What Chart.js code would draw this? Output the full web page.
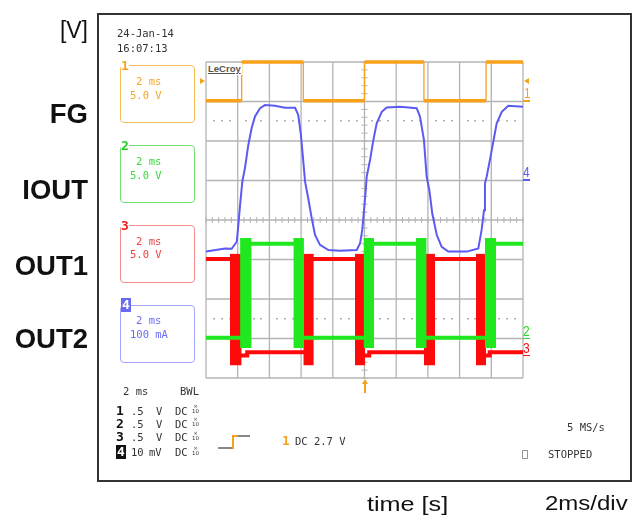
<!DOCTYPE html>
<html><head><meta charset="utf-8">
<script src="https://cdn.jsdelivr.net/npm/chart.js@4.4.1/dist/chart.umd.min.js"></script>
<style>
html,body{margin:0;padding:0;background:#fff;}
#wrap{position:relative;width:632px;height:516px;overflow:hidden;background:#fff;}
canvas{position:absolute;left:0;top:0;}
.t{position:absolute;white-space:pre;font-family:"DejaVu Sans Mono",monospace;font-size:10.5px;line-height:12px;color:#333;transform:translateY(-50%);}
.lbl{position:absolute;left:0;width:88px;text-align:right;font-family:"Liberation Sans",Arial,sans-serif;font-weight:bold;font-size:27.5px;line-height:28px;color:#111;transform:translateY(-50%);}
.box{position:absolute;left:120px;width:73px;height:56px;border:1.5px solid;border-radius:4px;}
.d{position:absolute;font-family:"DejaVu Sans Mono",monospace;font-weight:bold;font-size:13px;line-height:14px;transform:translateY(-50%);}
.fr{position:absolute;font-family:"DejaVu Sans",sans-serif;font-size:5.5px;line-height:5px;color:#333;text-align:center;}
.ln{position:absolute;}
.mk{position:absolute;font-family:"Liberation Sans",Arial,sans-serif;font-size:15px;line-height:15px;transform:translateY(-50%) scaleX(0.8);transform-origin:left center;}
</style></head>
<body><div id="wrap">
<canvas id="c" width="632" height="516"></canvas>

<!-- outer frame -->
<div class="ln" style="left:97px;top:13px;width:531px;height:465px;border:2px solid #333;"></div>

<!-- axis / signal labels -->
<div class="lbl" style="top:30px;font-weight:normal;font-size:23px;line-height:23px;">[V]</div>
<div class="lbl" style="top:114px;">FG</div>
<div class="lbl" style="top:190px;">IOUT</div>
<div class="lbl" style="top:266px;">OUT1</div>
<div class="lbl" style="top:339px;">OUT2</div>
<div style="position:absolute;left:367px;top:503px;transform:translateY(-50%) scaleX(1.2);transform-origin:left center;font-family:'Liberation Sans',Arial,sans-serif;font-size:21px;line-height:21px;color:#111;white-space:pre;">time [s]</div>
<div style="position:absolute;left:545px;top:503px;transform:translateY(-50%) scaleX(1.2);transform-origin:left center;font-family:'Liberation Sans',Arial,sans-serif;font-size:20px;line-height:20px;color:#111;white-space:pre;">2ms/div</div>

<!-- scope header -->
<div class="t" style="left:117px;top:33px;">24-Jan-14</div>
<div class="t" style="left:117px;top:48px;">16:07:13</div>

<!-- channel boxes -->
<div class="box" style="top:65px;border-color:#f6bc55;"></div>
<div class="d" style="left:121px;top:66px;color:#f5a21f;background:#fff;">1</div>
<div class="t" style="left:136px;top:81px;color:#f5a623;">2 ms</div>
<div class="t" style="left:130px;top:95px;color:#f5a623;">5.0 V</div>

<div class="box" style="top:145px;border-color:#74e074;"></div>
<div class="d" style="left:121px;top:146px;color:#22cc22;background:#fff;">2</div>
<div class="t" style="left:136px;top:161px;color:#3ad83a;">2 ms</div>
<div class="t" style="left:130px;top:175px;color:#3ad83a;">5.0 V</div>

<div class="box" style="top:225px;border-color:#f08c8c;"></div>
<div class="d" style="left:121px;top:226px;color:#ee2222;background:#fff;">3</div>
<div class="t" style="left:136px;top:241px;color:#ee4040;">2 ms</div>
<div class="t" style="left:130px;top:254px;color:#ee4040;">5.0 V</div>

<div class="box" style="top:305px;border-color:#a4a4ff;"></div>
<div class="d" style="left:121px;top:305px;color:#fff;background:#6a6af0;padding:0 1px;">4</div>
<div class="t" style="left:136px;top:320px;color:#6b6bf0;">2 ms</div>
<div class="t" style="left:130px;top:334px;color:#6b6bf0;">100 mA</div>

<!-- lower left block -->
<div class="t" style="left:123px;top:391px;">2 ms</div>
<div class="t" style="left:180px;top:391px;">BWL</div>

<div class="d" style="left:116px;top:410.5px;color:#111;">1</div>
<div class="t" style="left:131px;top:410.5px;">.5</div>
<div class="t" style="left:156px;top:410.5px;">V</div>
<div class="t" style="left:175px;top:410.5px;">DC</div>
<div class="fr" style="left:192px;top:404px;">×<br>10</div>

<div class="d" style="left:116px;top:423.5px;color:#111;">2</div>
<div class="t" style="left:131px;top:423.5px;">.5</div>
<div class="t" style="left:156px;top:423.5px;">V</div>
<div class="t" style="left:175px;top:423.5px;">DC</div>
<div class="fr" style="left:192px;top:417px;">×<br>10</div>

<div class="d" style="left:116px;top:437px;color:#111;">3</div>
<div class="t" style="left:131px;top:437px;">.5</div>
<div class="t" style="left:156px;top:437px;">V</div>
<div class="t" style="left:175px;top:437px;">DC</div>
<div class="fr" style="left:192px;top:430.5px;">×<br>10</div>

<div class="d" style="left:116px;top:452px;color:#fff;background:#111;padding:0 1px;">4</div>
<div class="t" style="left:131px;top:452px;">10</div>
<div class="t" style="left:149px;top:452px;">mV</div>
<div class="t" style="left:175px;top:452px;">DC</div>
<div class="fr" style="left:192px;top:445.5px;">×<br>10</div>

<!-- trigger icon and text -->
<div class="ln" style="left:218px;top:447px;width:14px;height:1.5px;background:#888;"></div>
<div class="ln" style="left:232px;top:435px;width:1.5px;height:13.5px;background:#f5a21f;"></div>
<div class="ln" style="left:232px;top:435px;width:6px;height:1.5px;background:#f5a21f;"></div>
<div class="ln" style="left:238px;top:435px;width:12px;height:1.5px;background:#888;"></div>
<div class="d" style="left:282px;top:441px;color:#f5a21f;">1</div>
<div class="t" style="left:295px;top:441px;">DC 2.7 V</div>

<div class="t" style="left:567px;top:427px;">5 MS/s</div>
<div class="ln" style="left:522px;top:450px;width:4px;height:7px;border:1px solid #999;"></div>
<div class="t" style="left:548px;top:454px;">STOPPED</div>

<!-- LeCroy logo -->
<div style="position:absolute;left:207px;top:63px;font-family:'Liberation Sans',Arial,sans-serif;font-weight:bold;font-size:9.5px;line-height:12px;color:#555;text-decoration:underline;background:#fff;padding:0 1px;">LeCroy</div>

<!-- markers around the grid -->
<div class="ln" style="left:200px;top:78px;width:0;height:0;border-top:3px solid transparent;border-bottom:3px solid transparent;border-left:5px solid #f5a21f;"></div>
<div class="ln" style="left:524px;top:78px;width:0;height:0;border-top:3px solid transparent;border-bottom:3px solid transparent;border-right:5px solid #f5a21f;"></div>
<div class="mk" style="left:524px;top:92px;color:#f5a21f;">1</div>
<div class="ln" style="left:523px;top:100px;width:7px;height:1.5px;background:#f5a21f;"></div>
<div class="mk" style="left:523px;top:171px;color:#5a5af5;">4</div>
<div class="ln" style="left:523px;top:179px;width:7px;height:1.5px;background:#5a5af5;"></div>
<div class="mk" style="left:523px;top:330px;color:#22dd22;">2</div>
<div class="ln" style="left:523px;top:337.5px;width:7px;height:1.5px;background:#22dd22;"></div>
<div class="mk" style="left:523px;top:347px;color:#ee1111;">3</div>
<div class="ln" style="left:523px;top:354.5px;width:7px;height:1.5px;background:#ee1111;"></div>
<div class="ln" style="left:363.5px;top:384px;width:2px;height:9px;background:#f5a21f;"></div>
<div class="ln" style="left:361.5px;top:379px;width:0;height:0;border-left:3px solid transparent;border-right:3px solid transparent;border-bottom:5px solid #f5a21f;"></div>
</div>

<script>
// ---- data (time in ms, level in screen divisions, 0 = bottom of grid) ----
const fgTime  = [0, 2.25, 2.25, 6.14, 6.14, 10.0, 10.0, 13.75, 13.75, 17.67, 17.67, 20];
const fgLevel = [7.02, 7.02, 8.0, 8.0, 7.02, 7.02, 8.0, 8.0, 7.02, 7.02, 8.0, 8.0];

const ioutTime  = [0, 1.20, 1.62, 1.94, 2.04, 2.15, 2.29, 2.46, 2.67, 2.88, 3.09, 3.41, 3.72, 4.35, 4.98, 5.62, 5.82, 5.99, 6.14, 6.25,
                   6.45, 6.67, 6.88, 7.19, 7.72, 8.45, 9.51, 9.72, 9.86, 9.97, 10.08, 10.14, 10.35, 10.56, 10.77, 11.09, 11.40, 12.24, 13.29, 13.50,
                   13.75, 13.92, 14.09, 14.28, 14.56, 14.87, 15.29, 16.45, 17.18, 17.39, 17.54, 17.60, 17.71, 18.03, 18.34, 18.66, 19.07, 20.0];
const ioutLevel = [3.20, 3.28, 3.27, 3.45, 3.87, 4.38, 4.97, 5.32, 5.90, 6.33, 6.62, 6.83, 6.91, 6.89, 6.84, 6.84, 6.66, 6.15, 5.48, 4.97,
                   4.55, 4.04, 3.62, 3.37, 3.24, 3.22, 3.24, 3.41, 3.75, 4.25, 4.76, 5.10, 5.52, 6.03, 6.45, 6.74, 6.85, 6.87, 6.83, 6.62,
                   6.03, 5.10, 4.76, 4.15, 3.62, 3.32, 3.20, 3.20, 3.28, 3.75, 4.25, 4.93, 5.10, 5.77, 6.45, 6.74, 6.89, 6.87];

const out1Time  = [0, 1.88, 1.88, 2.60, 2.60, 6.47, 6.47, 9.72, 9.72, 10.30, 10.30, 14.10, 14.10, 17.35, 17.35, 17.90, 17.90, 20];
const out1Level = [3.01, 3.01, 0.57, 0.57, 0.65, 0.65, 3.01, 3.01, 0.57, 0.57, 0.65, 0.65, 3.01, 3.01, 0.57, 0.57, 0.65, 0.65];
const out1BandStart = [1.51, 6.14, 9.40, 13.75, 17.03];
const out1BandEnd   = [2.25, 6.80, 10.03, 14.45, 17.67];
const out1BandTop = 3.13, out1BandBottom = 0.32;

const out2Time  = [0, 2.51, 2.51, 5.85, 5.85, 10.27, 10.27, 13.59, 13.59, 17.95, 17.95, 20];
const out2Level = [1.02, 1.02, 3.40, 3.40, 1.02, 1.02, 3.40, 3.40, 1.02, 1.02, 3.40, 3.40];
const out2BandStart = [2.15, 5.51, 9.94, 13.25, 17.60];
const out2BandEnd   = [2.88, 6.18, 10.60, 13.92, 18.30];
const out2BandTop = 3.53, out2BandBottom = 0.76;

const xDivs = [0, 2, 4, 6, 8, 10, 12, 14, 16, 18, 20];   // 2 ms/div
const yDivs = [0, 1, 2, 3, 4, 5, 6, 7, 8];
const dottedLevels = [6.5, 1.5];

// ---- colours ----
const C_FG = '#f9a11b', C_IOUT = '#5b5bf2', C_OUT1 = '#ff0a0a', C_OUT2 = '#1fe81f';

const pts = (t, v) => t.map((x, i) => ({x, y: v[i]}));
function bands(starts, ends, top, bottom, color) {
  return starts.map((s, i) => ({
    data: [{x: s, y: top}, {x: ends[i], y: top}],
    borderColor: color, backgroundColor: color, borderWidth: 1,
    fill: {value: bottom}, pointRadius: 0
  }));
}
// thin vertical edges, thick (noisy) horizontal levels
const edgeWidth = (thick, thin) => ({borderWidth: c => (c.p0.parsed.x === c.p1.parsed.x ? thin : thick)});

const datasets = [
  {data: pts(fgTime, fgLevel), borderColor: C_FG, borderWidth: 3.5, pointRadius: 0, clip: 4, segment: edgeWidth(3.5, 1.3)},
  {data: pts(ioutTime, ioutLevel), borderColor: C_IOUT, borderWidth: 2, pointRadius: 0},
  ...bands(out2BandStart, out2BandEnd, out2BandTop, out2BandBottom, C_OUT2),
  {data: pts(out2Time, out2Level), borderColor: C_OUT2, borderWidth: 4, pointRadius: 0},
  ...bands(out1BandStart, out1BandEnd, out1BandTop, out1BandBottom, C_OUT1),
  {data: pts(out1Time, out1Level), borderColor: C_OUT1, borderWidth: 4, pointRadius: 0}
];

const scopeGrid = {
  id: 'scopeGrid',
  beforeDatasetsDraw(chart) {
    const {ctx, chartArea: a, scales: {x, y}} = chart;
    ctx.save();
    ctx.strokeStyle = '#b4b4b4';
    ctx.lineWidth = 1.3;
    const line = (x1, y1, x2, y2) => { ctx.beginPath(); ctx.moveTo(x1, y1); ctx.lineTo(x2, y2); ctx.stroke(); };
    xDivs.forEach(v => { const p = x.getPixelForValue(v); line(p, a.top, p, a.bottom); });
    yDivs.forEach(v => { const p = y.getPixelForValue(v); line(a.left, p, a.right, p); });
    const cx = x.getPixelForValue(10), cy = y.getPixelForValue(4);
    ctx.lineWidth = 1;
    for (let k = 0; k <= 40; k++) { const p = y.getPixelForValue(k * 0.2); line(cx - 3, p, cx + 3, p); }
    for (let k = 0; k <= 50; k++) { const p = x.getPixelForValue(k * 0.4); line(p, cy - 3, p, cy + 3); }
    ctx.fillStyle = '#b0b0b0';
    dottedLevels.forEach(lv => {
      const py = y.getPixelForValue(lv);
      for (let d = 0; d < xDivs.length - 1; d++) {
        for (let q = 1; q <= 3; q++) {
          const px = x.getPixelForValue(xDivs[d] + q * 0.5);
          ctx.fillRect(Math.round(px) - 1, Math.round(py) - 1, 2, 1.5);
        }
      }
    });
    ctx.restore();
  }
};

new Chart(document.getElementById('c'), {
  type: 'line',
  data: {datasets},
  options: {
    responsive: false, animation: false, devicePixelRatio: 1,
    layout: {padding: {left: 206, right: 109, top: 62, bottom: 138}},
    elements: {line: {tension: 0}},
    plugins: {legend: {display: false}, tooltip: {enabled: false}},
    scales: {
      x: {type: 'linear', min: 0, max: 20, display: false},
      y: {type: 'linear', min: 0, max: 8, display: false}
    }
  },
  plugins: [scopeGrid]
});
</script>
</body></html>
